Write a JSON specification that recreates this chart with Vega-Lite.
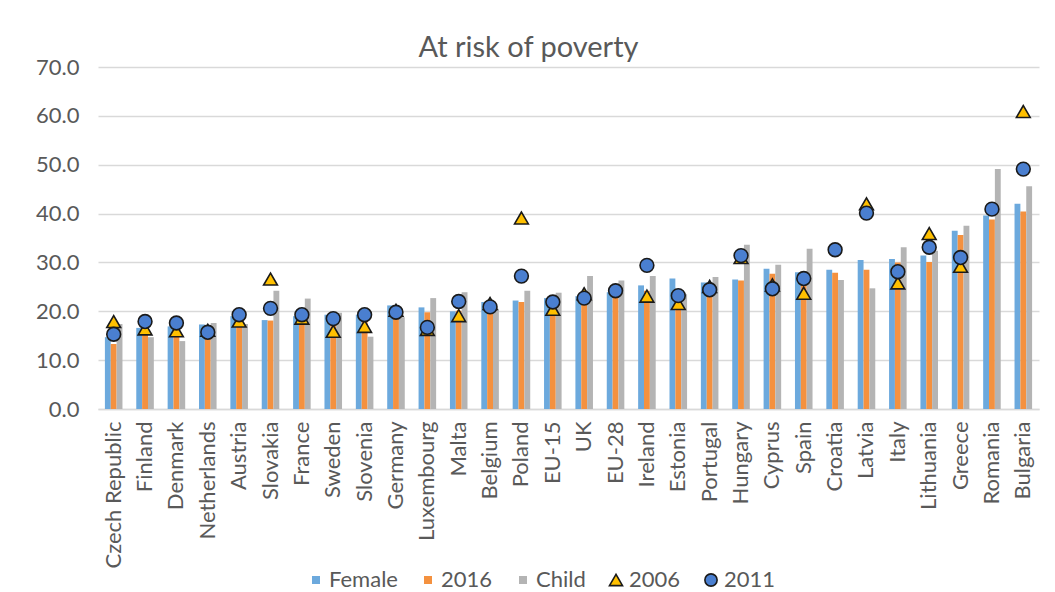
{
  "$schema": "https://vega.github.io/schema/vega-lite/v6.json",
  "width": 941,
  "height": 342,
  "autosize": "none",
  "padding": {"left": 98, "top": 67, "right": 16, "bottom": 183},
  "background": "white",
  "config": {"view": {"stroke": null}},
  "title": {"text": "At risk of poverty", "font": "Lato", "fontSize": 29, "fontWeight": "normal", "color": "#595959", "offset": 5, "dx": -40, "dy": 12},
  "data": {"values": [
    {"country": "Czech Republic", "Female": 14.7, "2016": 13.3, "Child": 17.4, "2006": 17.9, "2011": 15.3},
    {"country": "Finland", "Female": 16.6, "2016": 16.6, "Child": 14.7, "2006": 16.4, "2011": 17.9},
    {"country": "Denmark", "Female": 16.9, "2016": 16.7, "Child": 13.9, "2006": 16.0, "2011": 17.6},
    {"country": "Netherlands", "Female": 17.3, "2016": 16.7, "Child": 17.6, "2006": 16.1, "2011": 15.7},
    {"country": "Austria", "Female": 19.0, "2016": 18.0, "Child": 17.4, "2006": 18.0, "2011": 19.3},
    {"country": "Slovakia", "Female": 18.2, "2016": 18.1, "Child": 24.2, "2006": 26.6, "2011": 20.6},
    {"country": "France", "Female": 19.0, "2016": 18.2, "Child": 22.6, "2006": 18.6, "2011": 19.3},
    {"country": "Sweden", "Female": 19.3, "2016": 18.3, "Child": 19.7, "2006": 15.9, "2011": 18.5},
    {"country": "Slovenia", "Female": 19.3, "2016": 18.4, "Child": 14.8, "2006": 16.9, "2011": 19.3},
    {"country": "Germany", "Female": 21.2, "2016": 19.7, "Child": 18.8, "2006": 20.2, "2011": 19.8},
    {"country": "Luxembourg", "Female": 20.8, "2016": 19.8, "Child": 22.7, "2006": 16.3, "2011": 16.7},
    {"country": "Malta", "Female": 20.0, "2016": 20.1, "Child": 23.9, "2006": 19.1, "2011": 22.0},
    {"country": "Belgium", "Female": 21.9, "2016": 20.7, "Child": 20.5, "2006": 21.6, "2011": 20.9},
    {"country": "Poland", "Female": 22.2, "2016": 21.9, "Child": 24.2, "2006": 39.1, "2011": 27.2},
    {"country": "EU-15", "Female": 22.7, "2016": 22.4, "Child": 23.8, "2006": 20.4, "2011": 21.9},
    {"country": "UK", "Female": 23.1, "2016": 22.2, "Child": 27.2, "2006": 23.6, "2011": 22.7},
    {"country": "EU-28", "Female": 23.9, "2016": 23.5, "Child": 26.3, "2006": null, "2011": 24.2},
    {"country": "Ireland", "Female": 25.3, "2016": 24.2, "Child": 27.2, "2006": 23.1, "2011": 29.4},
    {"country": "Estonia", "Female": 26.7, "2016": 24.4, "Child": 23.5, "2006": 21.6, "2011": 23.2},
    {"country": "Portugal", "Female": 25.9, "2016": 25.1, "Child": 27.0, "2006": 25.1, "2011": 24.4},
    {"country": "Hungary", "Female": 26.5, "2016": 26.3, "Child": 33.6, "2006": 31.0, "2011": 31.4},
    {"country": "Cyprus", "Female": 28.7, "2016": 27.7, "Child": 29.5, "2006": 25.4, "2011": 24.6},
    {"country": "Spain", "Female": 28.0, "2016": 27.9, "Child": 32.8, "2006": 23.7, "2011": 26.7},
    {"country": "Croatia", "Female": 28.5, "2016": 27.9, "Child": 26.4, "2006": null, "2011": 32.6},
    {"country": "Latvia", "Female": 30.5, "2016": 28.5, "Child": 24.7, "2006": 42.0, "2011": 40.1},
    {"country": "Italy", "Female": 30.7, "2016": 30.0, "Child": 33.1, "2006": 25.8, "2011": 28.1},
    {"country": "Lithuania", "Female": 31.4, "2016": 30.1, "Child": 32.4, "2006": 35.9, "2011": 33.1},
    {"country": "Greece", "Female": 36.5, "2016": 35.6, "Child": 37.5, "2006": 29.2, "2011": 31.0},
    {"country": "Romania", "Female": 39.6, "2016": 38.8, "Child": 49.1, "2006": null, "2011": 40.9},
    {"country": "Bulgaria", "Female": 42.0, "2016": 40.4, "Child": 45.6, "2006": 60.9, "2011": 49.1}
  ]},
  "encoding": {
    "x": {
      "field": "country", "type": "nominal", "sort": null,
      "scale": {"paddingInner": 0.44, "paddingOuter": 0.22},
      "axis": {"title": null, "labelAngle": -90, "labelFont": "Lato", "labelFontSize": 22, "labelColor": "#595959", "ticks": false, "domainColor": "#D9D9D9", "domainWidth": 1.5, "labelPadding": 12, "labelOverlap": false, "labelLimit": 0}
    }
  },
  "layer": [
    {
      "transform": [{"fold": ["Female", "2016", "Child"], "as": ["series", "value"]}],
      "mark": {"type": "bar", "opacity": 1},
      "encoding": {
        "xOffset": {"field": "series", "type": "nominal", "scale": {"domain": ["Female", "2016", "Child"], "paddingInner": 0, "paddingOuter": 0}},
        "y": {
          "field": "value", "type": "quantitative",
          "scale": {"domain": [0, 70], "nice": false},
          "axis": {"title": null, "values": [0, 10, 20, 30, 40, 50, 60, 70], "format": ".1f", "domain": false, "ticks": false, "grid": true, "gridColor": "#D9D9D9", "gridWidth": 1.3, "labelFont": "Lato", "labelFontSize": 22, "labelColor": "#595959", "labelPadding": 19}
        },
        "color": {
          "field": "series", "type": "nominal",
          "scale": {"domain": ["Female", "2016", "Child", "2006", "2011"], "range": ["#6CA9DD", "#F4913F", "#B4B4B4", "#FFC000", "#4A7FD0"]},
          "legend": {
            "orient": "none", "legendX": 207, "legendY": 502, "direction": "horizontal", "title": null,
            "labelFont": "Lato", "labelFontSize": 22, "labelColor": "#595959",
            "symbolSize": 64, "symbolOpacity": 1, "symbolStrokeWidth": 1.6,
            "columnPadding": 19, "labelOffset": 2, "padding": 0,
            "encode": {"symbols": {"update": {
              "shape": {"signal": "datum.value === '2006' ? 'triangle-up' : datum.value === '2011' ? 'circle' : 'square'"},
              "size": {"signal": "datum.value === '2006' ? 170 : datum.value === '2011' ? 150 : 64"},
              "stroke": {"signal": "datum.value === '2006' || datum.value === '2011' ? '#1a1a1a' : 'transparent'"}
            }}}
          }
        }
      }
    },
    {
      "transform": [{"fold": ["2006", "2011"], "as": ["series", "value"]}],
      "mark": {"type": "point", "filled": true, "size": 190, "stroke": "#1a1a1a", "strokeWidth": 1.6, "opacity": 1},
      "encoding": {
        "y": {"field": "value", "type": "quantitative"},
        "color": {"field": "series", "type": "nominal"},
        "shape": {"field": "series", "type": "nominal", "scale": {"domain": ["2006", "2011"], "range": ["triangle-up", "circle"]}, "legend": null}
      }
    }
  ]
}
